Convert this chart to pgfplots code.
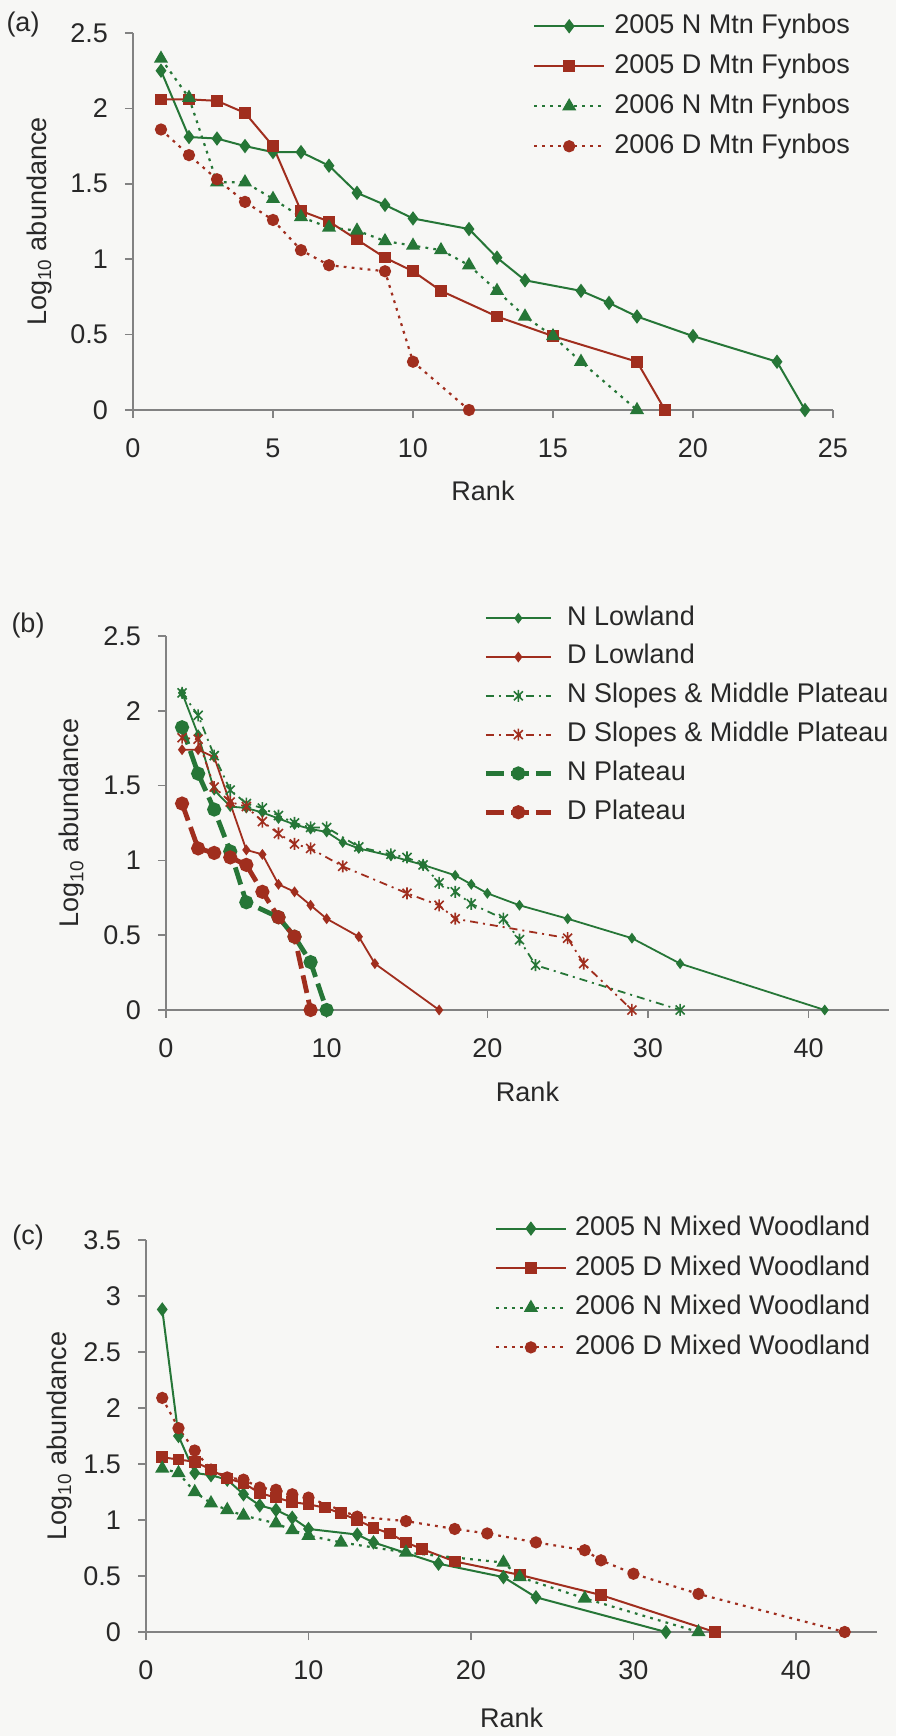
\documentclass[border=0pt]{standalone}
\usepackage{fontspec}
\setmainfont{Liberation Sans}
\usepackage{pgfplots}
\pgfplotsset{compat=1.18}
\definecolor{mygreen}{RGB}{38,118,55}
\definecolor{myred}{RGB}{160,46,30}
\definecolor{txt}{RGB}{40,40,40}
\definecolor{axc}{RGB}{130,130,130}
\definecolor{bgc}{RGB}{247,247,245}
\pgfdeclareplotmark{xstar}{%
 \pgfpathmoveto{\pgfqpoint{0pt}{\pgfplotmarksize}}%
 \pgfpathlineto{\pgfqpoint{0pt}{-\pgfplotmarksize}}%
 \pgfpathmoveto{\pgfqpoint{-.75\pgfplotmarksize}{.75\pgfplotmarksize}}%
 \pgfpathlineto{\pgfqpoint{.75\pgfplotmarksize}{-.75\pgfplotmarksize}}%
 \pgfpathmoveto{\pgfqpoint{-.75\pgfplotmarksize}{-.75\pgfplotmarksize}}%
 \pgfpathlineto{\pgfqpoint{.75\pgfplotmarksize}{.75\pgfplotmarksize}}%
 \pgfusepathqstroke}
\pgfplotsset{
 myaxis/.style={
  scale only axis, enlargelimits=false, clip=false,
  axis x line=bottom, axis y line=left,
  axis line style={draw=axc, line width=0.8pt, -},
  tick style={draw=axc, line width=0.8pt},
  tick align=outside, major tick length=4pt,
  ticklabel style={font=\fontsize{13.5}{16}\selectfont, text=txt},
  /pgf/number format/assume math mode=true,
  xticklabel style={yshift=-7pt},
  yticklabel style={xshift=-5pt},
  label style={font=\fontsize{13.5}{16}\selectfont, text=txt},
  xlabel={Rank}, ylabel={Log\textsubscript{10} abundance},
  legend cell align=left,
  legend style={draw=none, fill=none, inner sep=0pt, anchor=north west,
    font=\fontsize{13.5}{16}\selectfont, text=txt, row sep=7.5pt,
    nodes={inner sep=0pt, text height=9.7pt, text depth=2.8pt},
    /tikz/every odd column/.append style={column sep=4.5pt}},
 }
}
\begin{document}
\begin{tikzpicture}
\useasboundingbox (0,0) rectangle (448pt,868pt);
\fill[bgc] (0,0) rectangle (448pt,868pt);
\node[font=\fontsize{13.5}{16}\selectfont, text=txt] at (11.5pt,855.5pt) {(a)};
\node[font=\fontsize{13.5}{16}\selectfont, text=txt] at (14pt,555pt) {(b)};
\node[font=\fontsize{13.5}{16}\selectfont, text=txt] at (14pt,249pt) {(c)};

% ---------------- panel (a)
\begin{axis}[myaxis, at={(66.5pt,663pt)}, anchor=south west,
  width=350pt, height=188.5pt,
  xmin=0, xmax=25, ymin=0, ymax=2.5,
  xtick={0,5,10,15,20,25}, ytick={0,0.5,1,1.5,2,2.5},
  ylabel style={at={(axis description cs:-0.133,0.5)}, anchor=center},
  xlabel style={at={(axis description cs:0.5,-0.215)}, anchor=center},
  legend style={at={(axis description cs:0.571,1.052)}},
  legend image code/.code={\draw[mark repeat=2,mark phase=2,#1] plot coordinates {(0pt,0pt) (17.5pt,0pt) (35pt,0pt)};},
]
\addplot[color=mygreen, line width=1pt, mark=diamond*, mark size=2.8pt, mark options={solid, fill=mygreen}] coordinates {
(1,2.25)(2,1.81)(3,1.80)(4,1.75)(5,1.71)(6,1.71)(7,1.62)(8,1.44)(9,1.36)(10,1.27)(12,1.20)(13,1.01)(14,0.86)(16,0.79)(17,0.71)(18,0.62)(20,0.49)(23,0.32)(24,0)};
\addlegendentry{2005 N Mtn Fynbos}
\addplot[color=myred, line width=1pt, mark=square*, mark size=2.4pt, mark options={solid, fill=myred}] coordinates {
(1,2.06)(2,2.06)(3,2.05)(4,1.97)(5,1.75)(6,1.32)(7,1.25)(8,1.13)(9,1.01)(10,0.92)(11,0.79)(13,0.62)(15,0.49)(18,0.32)(19,0)};
\addlegendentry{2005 D Mtn Fynbos}
\addplot[color=mygreen, line width=1.1pt, dash pattern=on 1.4pt off 2.6pt, mark=triangle*, mark size=3pt, mark options={solid, fill=mygreen}] coordinates {
(1,2.33)(2,2.07)(3,1.51)(4,1.51)(5,1.40)(6,1.28)(7,1.21)(8,1.19)(9,1.12)(10,1.09)(11,1.06)(12,0.96)(13,0.79)(14,0.62)(15,0.49)(16,0.32)(18,0)};
\addlegendentry{2006 N Mtn Fynbos}
\addplot[color=myred, line width=1.1pt, dash pattern=on 1.4pt off 2.6pt, mark=*, mark size=2.5pt, mark options={solid, fill=myred}] coordinates {
(1,1.86)(2,1.69)(3,1.53)(4,1.38)(5,1.26)(6,1.06)(7,0.96)(9,0.92)(10,0.32)(12,0)};
\addlegendentry{2006 D Mtn Fynbos}
\end{axis}

% ---------------- panel (b)
\begin{axis}[myaxis, at={(83pt,363pt)}, anchor=south west,
  width=361.5pt, height=187pt,
  xmin=0, xmax=45, ymin=0, ymax=2.5,
  xtick={0,10,20,30,40}, ytick={0,0.5,1,1.5,2,2.5},
  ylabel style={at={(axis description cs:-0.130,0.5)}, anchor=center},
  xlabel style={at={(axis description cs:0.5,-0.218)}, anchor=center},
  legend style={at={(axis description cs:0.4385,1.082)}, row sep=6.9pt,
    /tikz/every odd column/.append style={column sep=7pt}},
  legend image code/.code={\draw[mark repeat=2,mark phase=2,#1] plot coordinates {(0pt,0pt) (16.25pt,0pt) (32.5pt,0pt)};},
]
\addplot[color=mygreen, line width=0.9pt, mark=diamond*, mark size=2pt, mark options={solid, fill=mygreen}] coordinates {
(1,2.12)(2,1.84)(3,1.47)(4,1.36)(5,1.35)(6,1.32)(7,1.28)(8,1.24)(9,1.21)(10,1.19)(11,1.12)(12,1.08)(14,1.03)(16,0.97)(18,0.90)(19,0.84)(20,0.78)(22,0.70)(25,0.61)(29,0.48)(32,0.31)(41,0)};
\addlegendentry{N Lowland}
\addplot[color=myred, line width=0.9pt, mark=diamond*, mark size=2pt, mark options={solid, fill=myred}] coordinates {
(1,1.74)(2,1.74)(3,1.69)(4,1.38)(5,1.07)(6,1.04)(7,0.84)(8,0.79)(9,0.70)(10,0.61)(12,0.49)(13,0.31)(17,0)};
\addlegendentry{D Lowland}
\addplot[color=mygreen, line width=0.9pt, dash pattern=on 4pt off 2.5pt on 1pt off 2.5pt, mark=xstar, mark size=3pt, mark options={solid, line width=0.8pt}] coordinates {
(1,2.12)(2,1.97)(3,1.70)(4,1.47)(5,1.38)(6,1.35)(7,1.30)(8,1.25)(9,1.22)(10,1.22)(12,1.09)(14,1.04)(15,1.02)(16,0.97)(17,0.85)(18,0.79)(19,0.71)(21,0.61)(22,0.47)(23,0.30)(32,0)};
\addlegendentry{N Slopes \& Middle Plateau}
\addplot[color=myred, line width=0.9pt, dash pattern=on 4pt off 2.5pt on 1pt off 2.5pt, mark=xstar, mark size=3pt, mark options={solid, line width=0.8pt}] coordinates {
(1,1.82)(2,1.81)(3,1.49)(4,1.39)(5,1.36)(6,1.26)(7,1.18)(8,1.11)(9,1.08)(11,0.96)(15,0.78)(17,0.70)(18,0.61)(25,0.48)(26,0.31)(29,0)};
\addlegendentry{D Slopes \& Middle Plateau}
\addplot[color=mygreen, line width=2.4pt, dash pattern=on 9pt off 3.5pt, mark=*, mark size=2.3pt, mark options={solid, fill=mygreen}] coordinates {
(1,1.89)(2,1.58)(3,1.34)(4,1.06)(5,0.72)(7,0.62)(8,0.49)(9,0.32)(10,0)};
\addlegendentry{N Plateau}
\addplot[color=myred, line width=2.4pt, dash pattern=on 9pt off 3.5pt, mark=*, mark size=2.3pt, mark options={solid, fill=myred}] coordinates {
(1,1.38)(2,1.08)(3,1.05)(4,1.02)(5,0.97)(6,0.79)(7,0.62)(8,0.49)(9,0)};
\addlegendentry{D Plateau}
\end{axis}

% ---------------- panel (c)
\begin{axis}[myaxis, at={(73pt,52pt)}, anchor=south west,
  width=365.6pt, height=196pt,
  xmin=0, xmax=45, ymin=0, ymax=3.5,
  xtick={0,10,20,30,40}, ytick={0,0.5,1,1.5,2,2.5,3,3.5},
  ylabel style={at={(axis description cs:-0.118,0.5)}, anchor=center},
  xlabel style={at={(axis description cs:0.5,-0.218)}, anchor=center},
  legend style={at={(axis description cs:0.4765,1.062)}, row sep=7.3pt,
    /tikz/every odd column/.append style={column sep=4pt}},
  legend image code/.code={\draw[mark repeat=2,mark phase=2,#1] plot coordinates {(0pt,0pt) (17.5pt,0pt) (35pt,0pt)};},
]
\addplot[color=mygreen, line width=1pt, mark=diamond*, mark size=2.8pt, mark options={solid, fill=mygreen}] coordinates {
(1,2.88)(2,1.75)(3,1.42)(4,1.40)(5,1.36)(6,1.23)(7,1.13)(8,1.09)(9,1.02)(10,0.92)(13,0.87)(14,0.80)(18,0.61)(22,0.49)(24,0.31)(32,0)};
\addlegendentry{2005 N Mixed Woodland}
\addplot[color=myred, line width=1pt, mark=square*, mark size=2.4pt, mark options={solid, fill=myred}] coordinates {
(1,1.56)(2,1.54)(3,1.52)(4,1.45)(5,1.37)(6,1.33)(7,1.24)(8,1.20)(9,1.16)(10,1.14)(11,1.11)(12,1.06)(13,1.00)(14,0.93)(15,0.88)(16,0.80)(17,0.74)(19,0.63)(23,0.51)(28,0.33)(35,0)};
\addlegendentry{2005 D Mixed Woodland}
\addplot[color=mygreen, line width=1.1pt, dash pattern=on 1.4pt off 2.6pt, mark=triangle*, mark size=3pt, mark options={solid, fill=mygreen}] coordinates {
(1,1.46)(2,1.42)(3,1.25)(4,1.15)(5,1.09)(6,1.04)(8,0.97)(9,0.91)(10,0.86)(12,0.80)(16,0.71)(22,0.62)(23,0.49)(27,0.30)(34,0)};
\addlegendentry{2006 N Mixed Woodland}
\addplot[color=myred, line width=1.1pt, dash pattern=on 1.4pt off 2.6pt, mark=*, mark size=2.5pt, mark options={solid, fill=myred}] coordinates {
(1,2.09)(2,1.82)(3,1.62)(4,1.45)(5,1.38)(6,1.36)(7,1.29)(8,1.27)(9,1.23)(10,1.20)(13,1.03)(16,0.99)(19,0.92)(21,0.88)(24,0.80)(27,0.73)(28,0.64)(30,0.52)(34,0.34)(43,0)};
\addlegendentry{2006 D Mixed Woodland}
\end{axis}
\end{tikzpicture}
\end{document}
